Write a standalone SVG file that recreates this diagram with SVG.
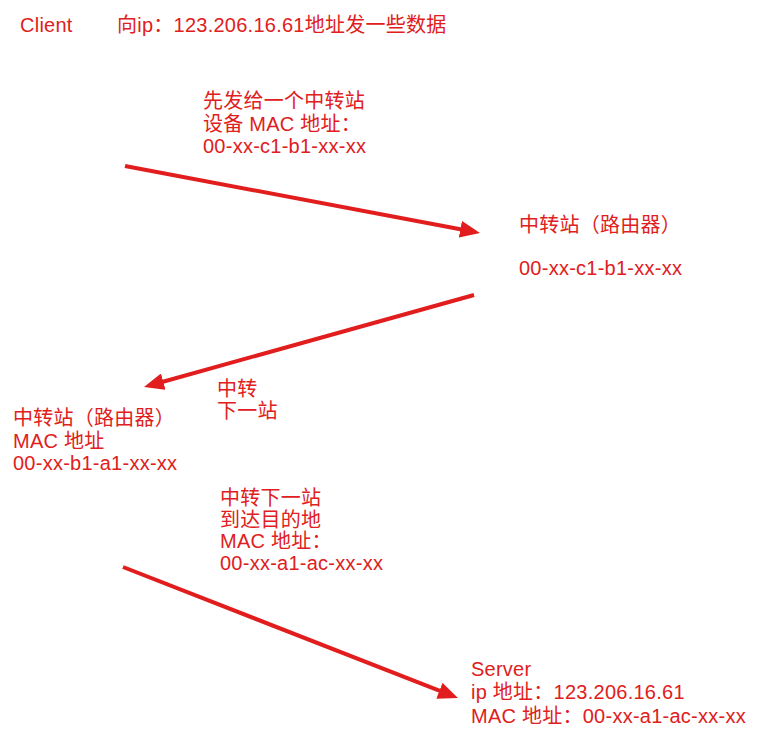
<svg xmlns="http://www.w3.org/2000/svg" width="774" height="751" viewBox="0 0 774 751">
<style>
text{font-family:"Liberation Sans","Noto Sans CJK SC",sans-serif;font-size:20px;fill:#e02020;letter-spacing:0.25px}
.ln{stroke:#e11d1d;stroke-width:4;fill:none;marker-end:url(#ah)}
</style>
<defs>
<marker id="ah" viewBox="0 0 20 17" markerWidth="20" markerHeight="17" markerUnits="userSpaceOnUse" refX="4" refY="8.5" orient="auto">
<path d="M0,0 L20,8.5 L0,17 z" fill="#e11d1d"/>
</marker>
</defs>
<rect width="774" height="751" fill="#fff"/>
<g id="client"><text x="20" y="32">Client</text></g>
<g id="title"><text x="117" y="32">向ip：123.206.16.61地址发一些数据</text></g>
<g id="label1"><text x="203" y="108">先发给一个中转站</text><text x="203" y="131">设备 MAC 地址：</text><text x="203" y="153">00-xx-c1-b1-xx-xx</text></g>
<g id="router1"><text x="519" y="232">中转站（路由器）</text><text x="519" y="275">00-xx-c1-b1-xx-xx</text></g>
<g id="label2"><text x="217" y="396">中转</text><text x="217" y="418">下一站</text></g>
<g id="router2"><text x="13" y="425">中转站（路由器）</text><text x="13" y="448">MAC 地址</text><text x="13" y="470">00-xx-b1-a1-xx-xx</text></g>
<g id="label3"><text x="220" y="505">中转下一站</text><text x="220" y="527">到达目的地</text><text x="220" y="548">MAC 地址：</text><text x="220" y="570">00-xx-a1-ac-xx-xx</text></g>
<g id="server"><text x="471" y="676">Server</text><text x="471" y="699">ip 地址：123.206.16.61</text><text x="471" y="723">MAC 地址：00-xx-a1-ac-xx-xx</text></g>
<g id="connectors">
<line class="ln" x1="125" y1="166" x2="464.3" y2="230"/>
<line class="ln" x1="474" y1="295" x2="159.4" y2="382.7"/>
<line class="ln" x1="123" y1="567" x2="443.1" y2="692.2"/>
</g>
</svg>
